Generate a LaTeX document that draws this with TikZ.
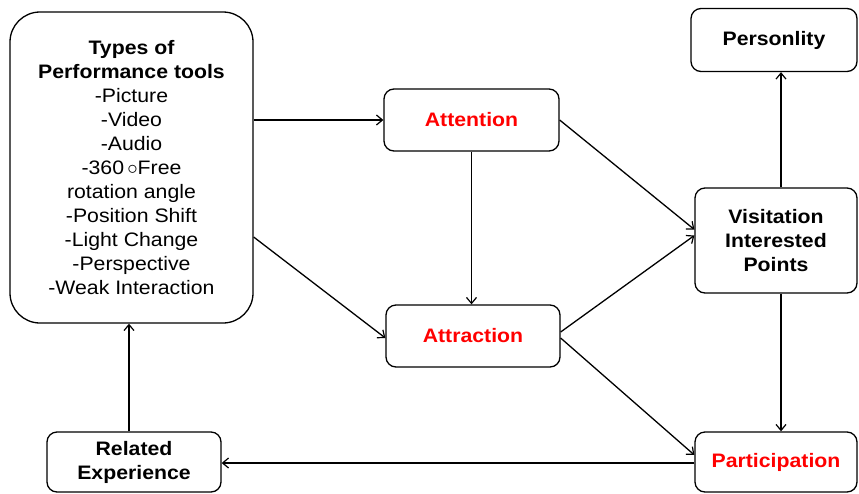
\documentclass[tikz,border=0pt]{standalone}
\usepackage{fontspec}
\setmainfont[FakeStretch=1.09]{Liberation Sans}
\usetikzlibrary{arrows.meta}
\begin{document}
\begin{tikzpicture}[x=1pt,y=-1pt,
  box/.style={draw, line width=1.3pt, rounded corners=10pt, align=center, inner sep=0pt,
    font=\fontsize{19.5}{24}\selectfont\bfseries},
  redtxt/.style={text=red},
  arr/.style={line width=1.3pt, -{Straight Barb[length=6pt,width=10pt,line width=1.2pt]}}]
\useasboundingbox (0,0) rectangle (859,493);
\node[box, rounded corners=30pt, minimum width=243pt, minimum height=311pt, font=\fontsize{19.5}{24}\selectfont] (big) at (131.5,167.5)
  {\textbf{Types of}\\ \textbf{Performance tools}\\ -Picture\\ -Video\\ -Audio\\ -360\,$\circ$Free\\ rotation angle\\ -Position Shift\\ -Light Change\\ -Perspective\\ -Weak Interaction};
\node[box, redtxt, minimum width=175pt, minimum height=62pt] (att) at (471.5,120) {Attention};
\node[box, redtxt, minimum width=174pt, minimum height=62pt] (attr) at (473,336) {Attraction};
\node[box, minimum width=166pt, minimum height=63pt] (pers) at (774,40) {Personlity};
\node[box, minimum width=162pt, minimum height=105pt] (vis) at (776,240.5) {Visitation\\ Interested\\ Points};
\node[box, redtxt, minimum width=162pt, minimum height=60pt] (part) at (776,462) {Participation};
\node[box, minimum width=174pt, minimum height=60pt] (rel) at (134,462) {Related\\ Experience};
\draw[arr] (big.east |- att.west) -- (att.west);
\draw[arr] ([yshift=-69.5pt]big.east) -- ([yshift=-2pt]attr.west);
\draw[arr] (att.south) -- (att.south |- attr.north);
\draw[arr] (att.east) -- ([yshift=11pt]vis.west);
\draw[arr] ([yshift=4pt]attr.east) -- ([yshift=5pt]vis.west);
\draw[arr] ([yshift=-2pt]attr.east) -- ([yshift=7pt]part.west);
\draw[arr] ([xshift=5pt]vis.north) -- ([xshift=5pt]vis.north |- pers.south);
\draw[arr] ([xshift=5pt]vis.south) -- ([xshift=5pt]vis.south |- part.north);
\draw[arr] ([yshift=-1pt]part.west) -- ([yshift=-1pt]rel.east);
\draw[arr] ([xshift=-5pt]rel.north) -- ([xshift=-5pt]rel.north |- big.south);
\end{tikzpicture}
\end{document}
